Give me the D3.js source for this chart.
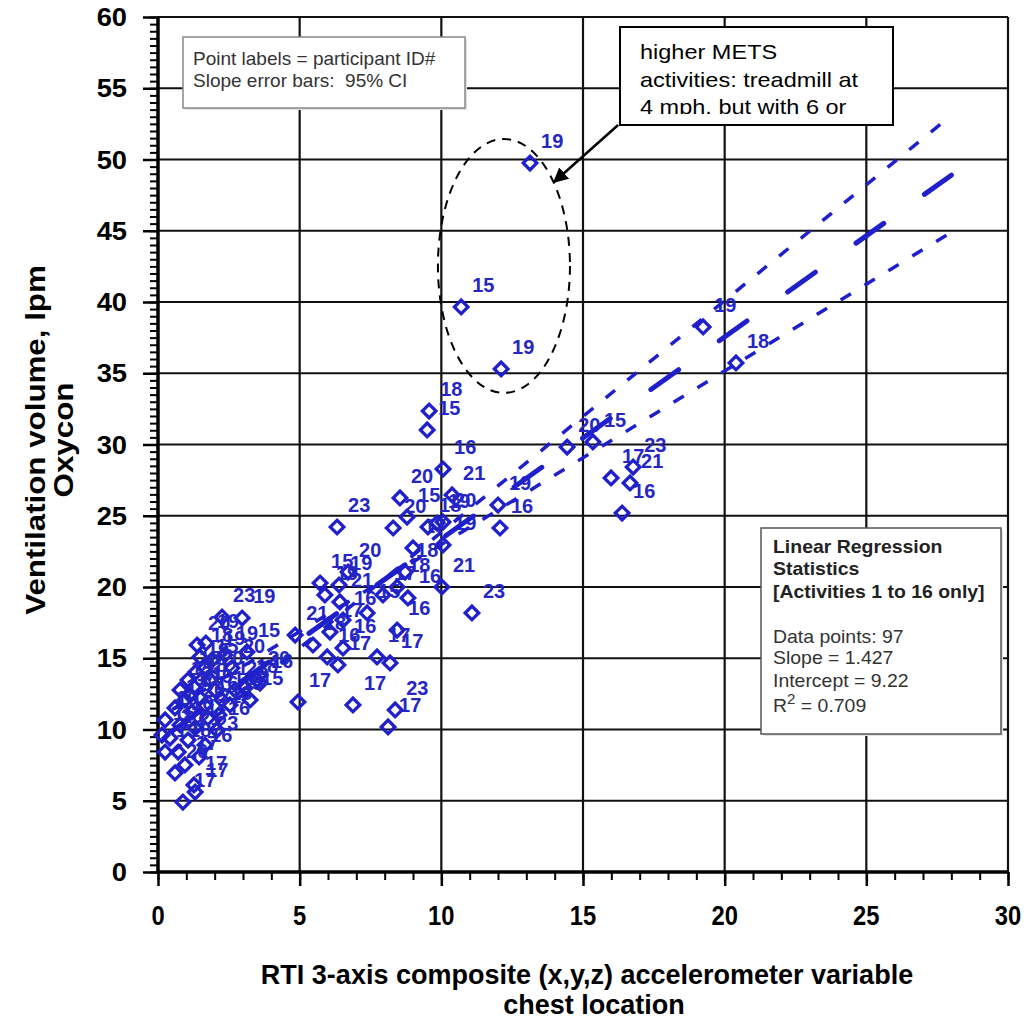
<!DOCTYPE html>
<html>
<head>
<meta charset="utf-8">
<script src="https://cdn.jsdelivr.net/npm/d3@7"></script>
<style>
  body { margin: 0; background: #fff; }
  svg { display: block; }
  text { font-family: "Liberation Sans", Arial, sans-serif; }
</style>
</head>
<body>
<svg id="chart" width="1026" height="1029"></svg>
<script>
// accelerometer variable (x), ventilation lpm (y), participant id (label)
const xs = [13.13, 10.70, 12.11, 19.24, 20.40, 14.44, 15.35, 16.77, 15.99, 16.66,
  16.38, 9.57, 9.50, 10.06, 8.54, 10.38, 8.79, 8.30, 6.32, 9.85,
  9.53, 10.06, 12.00, 12.07, 10.06, 8.72, 9.00, 10.02, 11.08, 5.72,
  5.89, 6.42, 6.71, 7.38, 7.94, 8.44, 8.82, 8.44, 7.73, 8.19,
  6.53, 6.07, 6.35, 5.97, 5.47, 4.84, 4.94, 6.88, 8.37, 8.12,
  3.14, 2.97, 2.26, 3.49, 6.53, 6.39,
  1.38, 1.69, 1.91, 1.48, 1.34, 1.66, 1.06, 1.84, 1.27, 2.01,
  1.48, 0.95, 2.26, 2.15, 0.60, 1.20, 1.76, 2.54, 2.72, 0.25,
  0.78, 1.31, 2.08, 0.42, 1.06, 1.66, 0.14, 1.45, 0.71, 0.25,
  0.95, 0.60, 1.27, 0.88, 1.31, 3.07, 3.60, 3.25, 2.61, 2.36,
  1.13, 0.78, 1.66];
const ys = [49.75, 39.65, 35.30, 38.25, 35.72, 29.82, 30.18, 28.42, 27.65, 27.30,
  25.19, 32.35, 31.02, 28.28, 26.25, 26.46, 24.91, 24.14, 24.21, 24.49,
  24.21, 24.56, 25.75, 24.14, 22.95, 21.05, 22.74, 20.00, 18.18, 20.28,
  19.44, 18.95, 21.05, 18.18, 19.44, 20.00, 19.23, 16.98, 15.09, 14.67,
  15.72, 16.84, 14.53, 15.09, 15.93, 16.63, 11.93, 11.72, 11.37, 10.18,
  15.44, 17.82, 17.89, 13.47, 17.68, 20.14,
  15.93, 16.07, 14.88, 15.09, 14.04, 14.32, 13.47, 13.47, 12.98, 12.77,
  12.21, 12.07, 12.07, 11.02, 11.51, 11.23, 10.81, 11.72, 12.77, 10.67,
  10.32, 10.11, 9.96, 9.40, 9.26, 8.91, 9.61, 8.07, 8.42, 8.42,
  7.51, 6.95, 6.11, 4.91, 5.61, 12.91, 13.26, 12.07, 14.32, 15.23,
  12.42, 12.77, 11.72];
const ids = [19, 15, 19, 19, 18, 20, 15, 23, 17, 21,
  16, 18, 15, 16, 20, 21, 15, 20, 23, 19,
  18, 20, 19, 16, 19, 18, 17, 21, 23, 15,
  19, 21, 20, 15, 17, 18, 16, 16, 17, 17,
  16, 17, 17, 16, 18, 21, 17, 17, 23, 17,
  15, 19, 23, 20, 16, 19,
  20, 19, 19, 18, 19, 15, 18, 20, 18, 21,
  19, 16, 16, 18, 17, 20, 21, 15, 23, 19,
  16, 17, 16, 20, 21, 23, 15, 16, 18, 19,
  17, 20, 17, 17, 17, 18, 16, 15, 20, 19,
  21, 15, 16];

// regression line and 95% CI slope lines (end points)
const fitX = [0.5, 28];
const fitMid = [9.9, 48.9];
const fitHi = [8.4, 53.1];
const fitLo = [11.4, 44.9];

const xTicks = [0, 5, 10, 15, 20, 25, 30];
const yTicks = [0, 5, 10, 15, 20, 25, 30, 35, 40, 45, 50, 55, 60];

const BLUE = '#1f1fcc';
const svg = d3.select('#chart');

const x = d3.scaleLinear().domain([0, 30]).range([158, 1008]);
const y = d3.scaleLinear().domain([0, 60]).range([872, 17]);

function txt(g, px, py, str, o) {
  return g.append('text')
    .attr('transform', `translate(${px},${py}) rotate(${o.rot || 0}) scale(${o.sx || 1},1)`)
    .attr('text-anchor', o.anchor || 'start')
    .attr('font-size', o.size)
    .attr('font-weight', o.bold ? 'bold' : 'normal')
    .attr('fill', o.fill || '#000')
    .text(str);
}

// grid
const grid = svg.append('g').attr('stroke', '#111').attr('stroke-width', 2.2);
grid.selectAll('line.gx').data(xTicks.slice(1)).join('line').attr('class', 'gx')
  .attr('x1', d => x(d)).attr('x2', d => x(d)).attr('y1', y(0)).attr('y2', y(60));
grid.selectAll('line.gy').data(yTicks.slice(1)).join('line').attr('class', 'gy')
  .attr('x1', x(0)).attr('x2', x(30)).attr('y1', d => y(d)).attr('y2', d => y(d));

// axes
function tickStyle(g, w) {
  g.select('.domain').remove();
  g.selectAll('line').attr('stroke', '#000').attr('stroke-width', w);
}
svg.append('g').attr('transform', `translate(${x(0)},0)`)
  .call(d3.axisLeft(y).tickValues(d3.range(0, 60.01, 0.5)).tickSize(8).tickFormat(''))
  .call(g => tickStyle(g, 2));
svg.append('g').attr('transform', `translate(${x(0)},0)`)
  .call(d3.axisLeft(y).tickValues(yTicks).tickSize(15).tickFormat(''))
  .call(g => tickStyle(g, 2.5));
svg.append('g').attr('transform', `translate(0,${y(0)})`)
  .call(d3.axisBottom(x).tickValues(d3.range(0, 30.01, 1)).tickSize(8).tickFormat(''))
  .call(g => tickStyle(g, 2));
svg.append('g').attr('transform', `translate(0,${y(0)})`)
  .call(d3.axisBottom(x).tickValues(xTicks).tickSize(14).tickFormat(''))
  .call(g => tickStyle(g, 2.5));

svg.append('line').attr('x1', x(0)).attr('x2', x(0)).attr('y1', y(0) + 2).attr('y2', y(60))
  .attr('stroke', '#000').attr('stroke-width', 3.5);
svg.append('line').attr('x1', x(0) - 2).attr('x2', x(30)).attr('y1', y(0)).attr('y2', y(0))
  .attr('stroke', '#000').attr('stroke-width', 3.5);

const lab = svg.append('g');
yTicks.forEach(v => txt(lab, 127, y(v) + 9, v, { size: 26, bold: true, anchor: 'end', sx: 1.05 }));
xTicks.forEach(v => txt(lab, x(v), 925, v, { size: 27, bold: true, anchor: 'middle', sx: 0.88 }));

// axis titles
txt(lab, 587, 984, 'RTI 3-axis composite (x,y,z) accelerometer variable', { size: 27, bold: true, anchor: 'middle' });
txt(lab, 594, 1014, 'chest location', { size: 27, bold: true, anchor: 'middle' });
txt(lab, 45, 440, 'Ventilation volume, lpm', { size: 27, bold: true, anchor: 'middle', rot: -90, sx: 1.16 });
txt(lab, 73, 440, 'Oxycon', { size: 27, bold: true, anchor: 'middle', rot: -90, sx: 1.16 });

// points
const pts = xs.map((v, i) => ({ x: v, y: ys[i], id: ids[i] }));
svg.append('g').selectAll('path').data(pts).join('path')
  .attr('d', d3.symbol(d3.symbolSquare, 92))
  .attr('transform', d => `translate(${x(d.x)},${y(d.y)}) rotate(45)`)
  .attr('fill', 'none').attr('stroke', BLUE).attr('stroke-width', 3.3);
const pl = svg.append('g');
pts.forEach(d => txt(pl, x(d.x) + 11, y(d.y) - 15, d.id, { size: 20, bold: true, fill: '#2626c4' }));

// fit lines
const line = d3.line().x(d => x(d[0])).y(d => y(d[1]));
svg.append('path').datum(d3.zip(fitX, fitMid)).attr('d', line)
  .attr('fill', 'none').attr('stroke', BLUE).attr('stroke-width', 5)
  .attr('stroke-linecap', 'round').attr('stroke-dasharray', '34,50');
[fitHi, fitLo].forEach(f => {
  svg.append('path').datum(d3.zip(fitX, f)).attr('d', line)
    .attr('fill', 'none').attr('stroke', BLUE).attr('stroke-width', 3.5)
    .attr('stroke-dasharray', '12,16');
});

// ellipse and arrow annotation
svg.append('ellipse')
  .attr('cx', x(12.21)).attr('cy', y(42.53))
  .attr('rx', x(2.33) - x(0)).attr('ry', y(0) - y(8.91))
  .attr('fill', 'none').attr('stroke', '#000').attr('stroke-width', 2).attr('stroke-dasharray', '9,7');

svg.append('defs').append('marker').attr('id', 'ah')
  .attr('viewBox', '0 0 10 10').attr('refX', 9).attr('refY', 5)
  .attr('markerWidth', 6).attr('markerHeight', 6).attr('orient', 'auto')
  .attr('markerUnits', 'strokeWidth')
  .append('path').attr('d', 'M0,0 L10,5 L0,10 z').attr('fill', '#000');
svg.append('line')
  .attr('x1', x(16.24)).attr('y1', y(52.42)).attr('x2', x(13.98)).attr('y2', y(48.42))
  .attr('stroke', '#000').attr('stroke-width', 2.5).attr('marker-end', 'url(#ah)');

// legend box
svg.append('rect').attr('x', 185).attr('y', 39).attr('width', 282).attr('height', 71).attr('fill', '#e2e2e2');
svg.append('rect').attr('x', 183).attr('y', 37).attr('width', 282).attr('height', 71)
  .attr('fill', '#fff').attr('stroke', '#888').attr('stroke-width', 1.5);
txt(svg, 193, 65, 'Point labels = participant ID#', { size: 19, fill: '#333' });
txt(svg, 193, 87, 'Slope error bars:\u00a0 95% CI', { size: 19, fill: '#333' });

// callout box
svg.append('rect').attr('x', 620).attr('y', 27).attr('width', 273).attr('height', 98)
  .attr('fill', '#fff').attr('stroke', '#000').attr('stroke-width', 2);
svg.append('clipPath').attr('id', 'cb').append('rect')
  .attr('x', 620).attr('y', 27).attr('width', 273).attr('height', 87);
const cg = svg.append('g').attr('clip-path', 'url(#cb)');
txt(cg, 640, 59, 'higher METS', { size: 21, sx: 1.12 });
txt(cg, 640, 87, 'activities: treadmill at', { size: 21, sx: 1.12 });
txt(cg, 640, 114, '4 mph. but with 6 or', { size: 21, sx: 1.12 });

// stats box
svg.append('rect').attr('x', 763).attr('y', 530).attr('width', 240).attr('height', 206).attr('fill', '#e2e2e2');
svg.append('rect').attr('x', 761).attr('y', 528).attr('width', 240).attr('height', 206)
  .attr('fill', '#fff').attr('stroke', '#555').attr('stroke-width', 1.5);
const sb = { size: 18, bold: true, fill: '#222', sx: 1.08 };
const sn = { size: 18, fill: '#333', sx: 1.08 };
txt(svg, 773, 553, 'Linear Regression', sb);
txt(svg, 773, 575, 'Statistics', sb);
txt(svg, 773, 598, '[Activities 1 to 16 only]', sb);
txt(svg, 773, 643, 'Data points: 97', sn);
txt(svg, 773, 664, 'Slope = 1.427', sn);
txt(svg, 773, 687, 'Intercept = 9.22', sn);
const r2 = txt(svg, 773, 712, '', sn);
r2.append('tspan').text('R');
r2.append('tspan').attr('font-size', 14).attr('dy', -8).text('2');
r2.append('tspan').attr('dy', 8).text(' = 0.709');
</script>
</body>
</html>
